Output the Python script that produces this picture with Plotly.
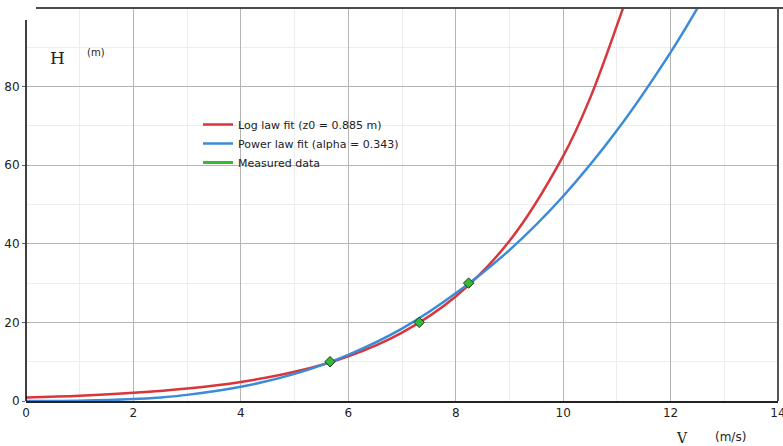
import plotly.graph_objects as go

# Log law fit curve
log_v = [0, 1, 2, 3, 4, 5, 6, 7, 8, 9, 10, 10.5, 11.1, 11.25]
log_h = [0.89, 1.35, 2.07, 3.17, 4.85, 7.42, 11.36, 17.4, 26.6, 40.7, 62.3, 77.0, 99.4, 105.5]

# Power law fit curve
pow_v = [0, 1, 2, 2.5, 3, 4, 5, 6, 7, 8, 9, 10, 11, 12, 12.6]
pow_h = [0, 0.06, 0.48, 0.92, 1.56, 3.61, 6.91, 11.76, 18.4, 27.4, 38.4, 52.1, 68.8, 88.7, 102.3]

# Measured data
meas_v = [5.66, 7.32, 8.24]
meas_h = [10, 20, 30]

x_ticks = [0, 2, 4, 6, 8, 10, 12, 14]
y_ticks = [0, 20, 40, 60, 80]

RED = "#d8363a"
BLUE = "#3a8bd8"
GREEN = "#33bb33"

fig = go.Figure()
fig.add_trace(go.Scatter(x=log_v, y=log_h, mode="lines", line=dict(color=RED, width=2.5, shape="spline"),
                         name="Log law fit (z0 = 0.885 m)"))
fig.add_trace(go.Scatter(x=pow_v, y=pow_h, mode="lines", line=dict(color=BLUE, width=2.5, shape="spline"),
                         name="Power law fit (alpha = 0.343)"))
fig.add_trace(go.Scatter(x=[None], y=[None], mode="lines", line=dict(color=GREEN, width=3),
                         name="Measured data"))
fig.add_trace(go.Scatter(x=meas_v, y=meas_h, mode="markers", showlegend=False,
                         marker=dict(symbol="diamond", size=8, color=GREEN,
                                     line=dict(color="#1e3a1e", width=1))))

L, R, T, B = 26, 5, 8, 45
W, H = 783, 446
pw, ph = W - L - R, H - T - B

def px(x):
    return (x - L) / pw

def py(y):
    return (H - B - y) / ph

shapes = [
    # legend white box
    dict(type="rect", xref="paper", yref="paper", x0=px(207), x1=px(415), y0=py(192), y1=py(71),
         fillcolor="white", line=dict(width=0), layer="between"),
    # H label white box
    dict(type="rect", xref="paper", yref="paper", x0=px(36), x1=px(125), y0=py(72), y1=py(22),
         fillcolor="white", line=dict(width=0), layer="between"),
    # top border
    dict(type="line", xref="paper", yref="paper", x0=px(36), x1=1.01, y0=1, y1=1,
         line=dict(color="#4a4a4a", width=2)),
    # right border
    dict(type="line", xref="paper", yref="paper", x0=1, x1=1, y0=0, y1=1,
         line=dict(color="#555555", width=2)),
    # left axis line
    dict(type="line", xref="paper", yref="paper", x0=0, x1=0, y0=0, y1=py(20),
         line=dict(color="black", width=1.5)),
]

def ann(text, x, y, family, size):
    return dict(text=text, xref="paper", yref="paper", x=px(x), y=py(y), showarrow=False,
                xanchor="center", yanchor="middle",
                font=dict(family=family, size=size, color="#222"))

annotations = [
    ann("H", 57, 58, "DejaVu Serif", 17),
    ann("(m)", 96, 52, "DejaVu Sans", 10),
    ann("V", 682, 438, "DejaVu Serif", 14),
    ann("(m/s)", 730, 437, "DejaVu Sans", 12),
]

fig.update_layout(
    width=W, height=H,
    margin=dict(l=L, r=R, t=T, b=B, autoexpand=False),
    paper_bgcolor="white", plot_bgcolor="white",
    font=dict(family="DejaVu Sans", size=12, color="#222"),
    shapes=shapes, annotations=annotations,
    legend=dict(x=px(198), y=py(110), xanchor="left", yanchor="top",
                bgcolor="rgba(0,0,0,0)", font=dict(family="DejaVu Sans", size=11, color="#222"),
                tracegroupgap=0, itemwidth=30),
    showlegend=True,
)
fig.update_xaxes(range=[0, 14], tickvals=x_ticks, ticktext=[str(v) for v in x_ticks],
                 showgrid=True, gridcolor="#b4b4b4", gridwidth=1.3,
                 minor=dict(dtick=1, showgrid=True, gridcolor="#ededed"),
                 zeroline=False, showline=True, linecolor="#222", linewidth=1.5,
                 ticks="", tickfont=dict(size=12), automargin=False, ticklabeloverflow="allow")
fig.update_yaxes(range=[0, 100], tickvals=y_ticks, ticktext=[str(v) for v in y_ticks],
                 showgrid=True, gridcolor="#b4b4b4", gridwidth=1.3,
                 minor=dict(dtick=10, showgrid=True, gridcolor="#ededed"),
                 zeroline=False, showline=False,
                 ticks="outside", ticklen=3, tickcolor="#666", tickfont=dict(size=12),
                 automargin=False, ticklabeloverflow="allow")

fig.write_html("out.html", config={"displayModeBar": False},
               post_script="document.body.style.margin='0';")
